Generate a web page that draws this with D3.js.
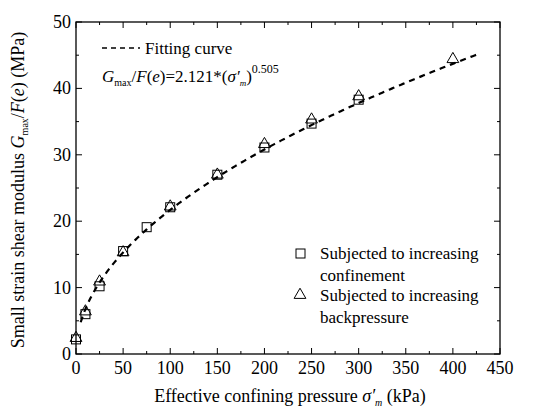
<!DOCTYPE html>
<html>
<head>
<meta charset="utf-8">
<script src="https://cdn.jsdelivr.net/npm/d3@7"></script>
<style>
  body { margin: 0; background: #fff; }
</style>
</head>
<body>
<script>
// data
const confPressure = [0, 10, 25, 50, 75, 100, 150, 200, 250, 300];
const confModulus  = [2.2, 6.0, 10.2, 15.5, 19.1, 22.1, 27.0, 31.1, 34.7, 38.3];
const backPressure = [0, 10, 25, 50, 100, 150, 200, 250, 300, 400];
const backModulus  = [2.4, 6.4, 10.9, 15.3, 22.2, 27.0, 31.6, 35.3, 38.8, 44.4];
const fitA = 2.121, fitB = 0.505;
const fitRange = [5, 425];
const xTicks = [0, 50, 100, 150, 200, 250, 300, 350, 400, 450];
const yTicks = [0, 10, 20, 30, 40, 50];

const W = 547, H = 415;
const m = { left: 76, right: 47, top: 22, bottom: 61 };

const svg = d3.select('body').append('svg')
  .attr('width', W).attr('height', H)
  .style('font-family', "'Liberation Serif', 'Times New Roman', 'DejaVu Serif', serif");

const x = d3.scaleLinear().domain([0, 450]).range([m.left, W - m.right]);
const y = d3.scaleLinear().domain([0, 50]).range([H - m.bottom, m.top]);

const x0 = x(0), x1 = x(450), y0 = y(0), y1 = y(50);

// ticks, all pointing inward, on all four sides
const xMinor = d3.range(0, 451, 25), yMinor = d3.range(0, 51, 5);
const tk = svg.append('g').attr('stroke', '#000').attr('stroke-width', 1);
xMinor.forEach(v => {
  const len = v % 50 === 0 ? 6 : 3;
  tk.append('line').attr('x1', x(v)).attr('x2', x(v)).attr('y1', y0).attr('y2', y0 - len);
  tk.append('line').attr('x1', x(v)).attr('x2', x(v)).attr('y1', y1).attr('y2', y1 + len);
});
yMinor.forEach(v => {
  const len = v % 10 === 0 ? 6 : 3;
  tk.append('line').attr('y1', y(v)).attr('y2', y(v)).attr('x1', x0).attr('x2', x0 + len);
  tk.append('line').attr('y1', y(v)).attr('y2', y(v)).attr('x1', x1).attr('x2', x1 - len);
});

svg.append('rect')
  .attr('x', x0).attr('y', y1).attr('width', x1 - x0).attr('height', y0 - y1)
  .attr('fill', 'none').attr('stroke', '#000').attr('stroke-width', 1.3);

// tick labels
svg.append('g').selectAll('text').data(xTicks).join('text')
  .attr('x', d => x(d)).attr('y', y0 + 20)
  .attr('text-anchor', 'middle').attr('font-size', 18)
  .text(d => d);
svg.append('g').selectAll('text').data(yTicks).join('text')
  .attr('x', x0 - 5).attr('y', d => y(d) + 6)
  .attr('text-anchor', 'end').attr('font-size', 18)
  .text(d => d);

// fitting curve
const fitPts = d3.range(fitRange[0], fitRange[1] + 0.1, 2).map(p => [p, fitA * Math.pow(p, fitB)]);
svg.append('path')
  .datum(fitPts)
  .attr('d', d3.line().x(d => x(d[0])).y(d => y(d[1])))
  .attr('fill', 'none').attr('stroke', '#000').attr('stroke-width', 2.2)
  .attr('stroke-dasharray', '6,5');

// markers
const sq = 9;
svg.append('g').selectAll('rect').data(confPressure.map((p, i) => [p, confModulus[i]])).join('rect')
  .attr('x', d => x(d[0]) - sq / 2).attr('y', d => y(d[1]) - sq / 2)
  .attr('width', sq).attr('height', sq)
  .attr('fill', 'none').attr('stroke', '#000').attr('stroke-width', 1);
const tri = d3.symbol().type(d3.symbolTriangle).size(60);
svg.append('g').selectAll('path').data(backPressure.map((p, i) => [p, backModulus[i]])).join('path')
  .attr('d', tri)
  .attr('transform', d => `translate(${x(d[0])},${y(d[1])})`)
  .attr('fill', 'none').attr('stroke', '#000').attr('stroke-width', 1);

// top legend
svg.append('line')
  .attr('x1', 102).attr('x2', 140).attr('y1', 48).attr('y2', 48)
  .attr('stroke', '#000').attr('stroke-width', 1.6).attr('stroke-dasharray', '5,4');
svg.append('text').attr('x', 145).attr('y', 54).attr('font-size', 17).text('Fitting curve');

const f = svg.append('text').attr('x', 102).attr('y', 82).attr('font-size', 17);
f.append('tspan').attr('font-style', 'italic').text('G');
f.append('tspan').attr('font-size', 10).attr('dy', 4).text('max');
f.append('tspan').attr('dy', -4).text('/');
f.append('tspan').attr('font-style', 'italic').text('F');
f.append('tspan').text('(');
f.append('tspan').attr('font-style', 'italic').text('e');
f.append('tspan').text(')=2.121*(');
f.append('tspan').attr('font-style', 'italic').text('σ′');
f.append('tspan').attr('font-style', 'italic').attr('font-size', 9).attr('dy', 4).text('m');
f.append('tspan').attr('dy', -4).text(')');
f.append('tspan').attr('font-size', 12).attr('dy', -9).text('0.505');

// bottom legend
svg.append('rect').attr('x', 296).attr('y', 249).attr('width', sq).attr('height', sq)
  .attr('fill', 'none').attr('stroke', '#000');
svg.append('path').attr('d', tri).attr('transform', 'translate(300,295)')
  .attr('fill', 'none').attr('stroke', '#000');
[['Subjected to increasing', 259], ['confinement', 281], ['Subjected to increasing', 301], ['backpressure', 323]]
  .forEach(([t, yy]) => svg.append('text').attr('x', 320).attr('y', yy).attr('font-size', 17).text(t));

// axis titles
const xt = svg.append('text').attr('x', 290).attr('y', 402).attr('text-anchor', 'middle').attr('font-size', 18);
xt.append('tspan').text('Effective confining pressure ');
xt.append('tspan').attr('font-style', 'italic').text('σ′');
xt.append('tspan').attr('font-style', 'italic').attr('font-size', 10).attr('dy', 4).text('m');
xt.append('tspan').attr('dy', -4).text(' (kPa)');

const yt = svg.append('text').attr('transform', 'translate(24,190) rotate(-90)')
  .attr('text-anchor', 'middle').attr('font-size', 18);
yt.append('tspan').text('Small strain shear modulus ');
yt.append('tspan').attr('font-style', 'italic').text('G');
yt.append('tspan').attr('font-size', 10).attr('dy', 4).text('max');
yt.append('tspan').attr('dy', -4).text('/');
yt.append('tspan').attr('font-style', 'italic').text('F');
yt.append('tspan').text('(');
yt.append('tspan').attr('font-style', 'italic').text('e');
yt.append('tspan').text(')  (MPa)');
</script>
</body>
</html>
